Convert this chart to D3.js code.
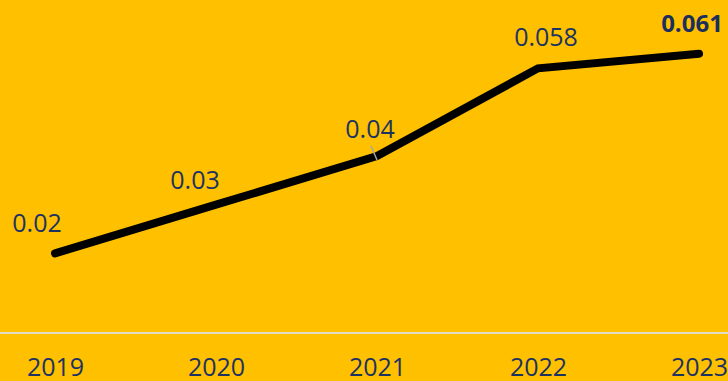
<!DOCTYPE html>
<html>
<head>
<meta charset="utf-8">
<script src="https://cdn.jsdelivr.net/npm/d3@7/dist/d3.min.js"></script>
<style>
  html, body { margin: 0; padding: 0; background: #FFC000; }
  svg { display: block; }
  text { font-family: "Open Sans", "Lato", sans-serif; }
</style>
</head>
<body>
<script>
// Yearly values
const years = ["2019", "2020", "2021", "2022", "2023"];
const values = [0.02, 0.03, 0.04, 0.058, 0.061];
const valueLabels = ["0.02", "0.03", "0.04", "0.058", "0.061"];

// Label placement relative to each point
const labelOffsets = [[-18, -21], [-21, -16], [-7, -18], [8, -22], [-7, -22]];

const W = 728, H = 381;
const svg = d3.select("body").append("svg").attr("width", W).attr("height", H);

svg.append("rect").attr("width", W).attr("height", H).attr("fill", "#FFC000");

const x = d3.scalePoint().domain(years).range([55, 699]);
const y = d3.scaleLinear().domain([0.02, 0.06]).range([253.4, 58.6]);

// Baseline
svg.append("line")
  .attr("x1", 0).attr("x2", W)
  .attr("y1", 333).attr("y2", 333)
  .attr("stroke", "#E2DCCB").attr("stroke-width", 2);

// Year labels
const xAxis = d3.axisBottom(x).tickSize(0).tickPadding(0);
const gx = svg.append("g").attr("transform", "translate(0,357)").call(xAxis);
gx.select(".domain").remove();
gx.selectAll("text")
  .attr("dy", "0.74em")
  .attr("font-size", 25)
  .attr("font-weight", 400)
  .attr("fill", "#1C3361")
  .style("font-family", "'Open Sans', Lato, sans-serif");

const pts = years.map((yr, i) => ({ yr, v: values[i], label: valueLabels[i], off: labelOffsets[i] }));

// Series line
svg.append("path")
  .datum(pts)
  .attr("fill", "none")
  .attr("stroke", "#000")
  .attr("stroke-width", 8)
  .attr("stroke-linecap", "round")
  .attr("stroke-linejoin", "miter")
  .attr("d", d3.line().x(d => x(d.yr)).y(d => y(d.v)));

// Leader line for the 2021 label
svg.append("line")
  .attr("x1", x("2021") - 6).attr("y1", y(0.04) - 10)
  .attr("x2", x("2021")).attr("y2", y(0.04) + 4)
  .attr("stroke", "#A6A6A6").attr("stroke-width", 1.5);

// Value labels
svg.selectAll("text.val")
  .data(pts)
  .join("text")
  .attr("class", "val")
  .attr("x", d => x(d.yr) + d.off[0])
  .attr("y", d => y(d.v) + d.off[1])
  .attr("text-anchor", "middle")
  .attr("font-size", (d, i) => i === pts.length - 1 ? 24 : 25)
  .attr("font-weight", (d, i) => i === pts.length - 1 ? 700 : 400)
  .attr("fill", (d, i) => i === pts.length - 1 ? "#1B2F5E" : "#1C3361")
  .text(d => d.label);
</script>
</body>
</html>
